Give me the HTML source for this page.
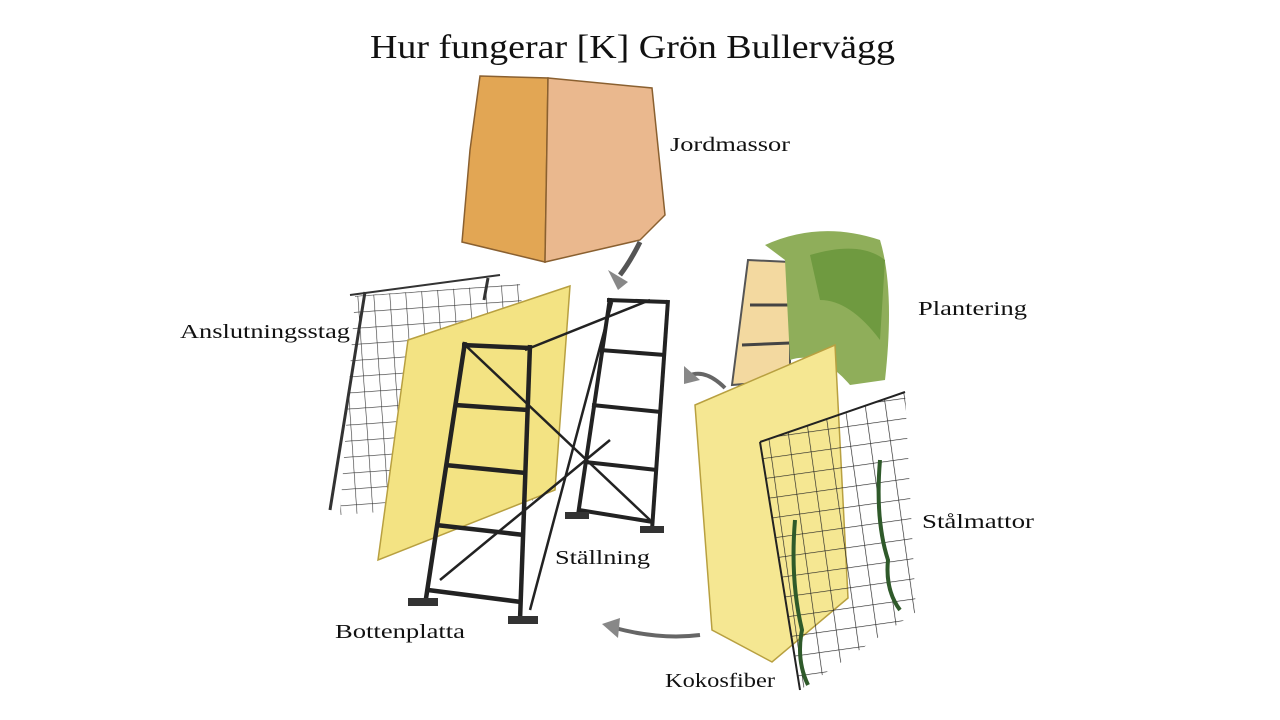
<!DOCTYPE html>
<html><head><meta charset="utf-8"><style>
html,body{margin:0;padding:0;background:#fff;}
svg{display:block;}
text{font-family:"Liberation Serif",serif;fill:#111;}
</style></head><body>
<svg width="1280" height="720" viewBox="0 0 1280 720" xmlns="http://www.w3.org/2000/svg">
<defs>
<pattern id="gridL" width="16" height="16" patternUnits="userSpaceOnUse" patternTransform="rotate(-4)">
<path d="M0 0H16M0 0V16" stroke="#333" stroke-width="1.2" fill="none"/></pattern>
<pattern id="gridR" width="20" height="20" patternUnits="userSpaceOnUse" patternTransform="rotate(-8)">
<path d="M0 0H20M0 0V20" stroke="#222" stroke-width="1.3" fill="none"/></pattern>
</defs>
<text x="370" y="58" font-size="34" textLength="525" lengthAdjust="spacingAndGlyphs">Hur fungerar [K] Grön Bullervägg</text>
<!-- soil block -->
<polygon points="480,76 548,78 545,262 462,242 470,150" fill="#e2a654" stroke="#8a6030" stroke-width="1.5"/>
<polygon points="548,78 652,88 665,215 640,240 545,262" fill="#eab88e" stroke="#8a6030" stroke-width="1.5"/>
<text x="670" y="151" font-size="20" textLength="120" lengthAdjust="spacingAndGlyphs">Jordmassor</text>
<path d="M640 242 Q630 262 620 275" stroke="#555" stroke-width="5" fill="none"/>
<polygon points="608,270 628,282 618,290" fill="#888"/>
<!-- left grid -->
<polygon points="355,296 520,284 540,500 340,515" fill="url(#gridL)"/>
<line x1="350" y1="295" x2="500" y2="275" stroke="#333" stroke-width="2"/>
<line x1="365" y1="292" x2="330" y2="510" stroke="#333" stroke-width="3"/>
<line x1="488" y1="278" x2="484" y2="300" stroke="#333" stroke-width="3"/>
<polygon points="408,340 570,286 555,490 378,560" fill="#f3e383" stroke="#b8a040" stroke-width="1.5"/>
<text x="180" y="338" font-size="20" textLength="170" lengthAdjust="spacingAndGlyphs">Anslutningsstag</text>
<!-- back ladder -->
<g stroke="#222" stroke-width="4" fill="none">
<line x1="610" y1="298" x2="578" y2="515"/>
<line x1="668" y1="300" x2="652" y2="530"/>
<line x1="607" y1="300" x2="668" y2="302"/>
<line x1="600" y1="350" x2="665" y2="355"/>
<line x1="592" y1="405" x2="661" y2="412"/>
<line x1="585" y1="462" x2="657" y2="470"/>
<line x1="579" y1="510" x2="653" y2="522"/>
</g>
<g stroke="#222" stroke-width="2.5">
<line x1="612" y1="302" x2="530" y2="610"/>
<line x1="465" y1="345" x2="650" y2="520"/>
<line x1="525" y1="350" x2="650" y2="300"/>
<line x1="440" y1="580" x2="610" y2="440"/>
</g>
<g stroke="#222" stroke-width="4.5" fill="none">
<line x1="465" y1="342" x2="425" y2="605"/>
<line x1="530" y1="345" x2="520" y2="620"/>
<line x1="462" y1="345" x2="530" y2="348"/>
<line x1="455" y1="405" x2="528" y2="410"/>
<line x1="445" y1="465" x2="526" y2="473"/>
<line x1="436" y1="525" x2="524" y2="535"/>
<line x1="428" y1="590" x2="521" y2="602"/>
</g>
<rect x="408" y="598" width="30" height="8" fill="#333"/>
<rect x="508" y="616" width="30" height="8" fill="#333"/>
<rect x="565" y="512" width="24" height="7" fill="#333"/>
<rect x="640" y="526" width="24" height="7" fill="#333"/>
<text x="555" y="564" font-size="20" textLength="95" lengthAdjust="spacingAndGlyphs">Ställning</text>
<text x="335" y="638" font-size="20" textLength="130" lengthAdjust="spacingAndGlyphs">Bottenplatta</text>
<!-- right plant module -->
<polygon points="748,260 790,262 790,380 732,385" fill="#f3d9a0" stroke="#555" stroke-width="2"/>
<g stroke="#444" stroke-width="3"><line x1="750" y1="305" x2="790" y2="305"/><line x1="742" y1="345" x2="790" y2="343"/></g>
<path d="M765 245 Q820 220 880 240 Q895 290 885 380 L850 385 Q820 350 790 360 L785 260 Z" fill="#8fae5a"/>
<path d="M810 255 Q860 240 885 260 L880 340 Q850 300 820 300 Z" fill="#6f9a40"/>
<text x="918" y="315" font-size="20" textLength="109" lengthAdjust="spacingAndGlyphs">Plantering</text>
<path d="M725 388 Q705 368 688 376" stroke="#666" stroke-width="4" fill="none"/>
<polygon points="684,366 700,380 684,384" fill="#888"/>
<polygon points="695,405 835,345 848,598 772,662 712,630" fill="#f5e792" stroke="#b8a040" stroke-width="1.5"/>
<polygon points="760,442 905,392 916,612 800,690" fill="url(#gridR)"/>
<line x1="760" y1="442" x2="905" y2="392" stroke="#222" stroke-width="2"/>
<line x1="760" y1="442" x2="800" y2="690" stroke="#222" stroke-width="2"/>
<path d="M795 520 Q790 580 802 630 Q796 660 808 685" stroke="#2f5a2a" stroke-width="4" fill="none"/>
<path d="M880 460 Q875 520 888 560 Q885 590 900 610" stroke="#2f5a2a" stroke-width="4" fill="none"/>
<text x="922" y="528" font-size="20" textLength="112" lengthAdjust="spacingAndGlyphs">Stålmattor</text>
<path d="M700 635 Q660 640 615 628" stroke="#666" stroke-width="4" fill="none"/>
<polygon points="602,624 620,618 618,638" fill="#888"/>
<text x="665" y="687" font-size="20" textLength="110" lengthAdjust="spacingAndGlyphs">Kokosfiber</text>
</svg>
</body></html>
